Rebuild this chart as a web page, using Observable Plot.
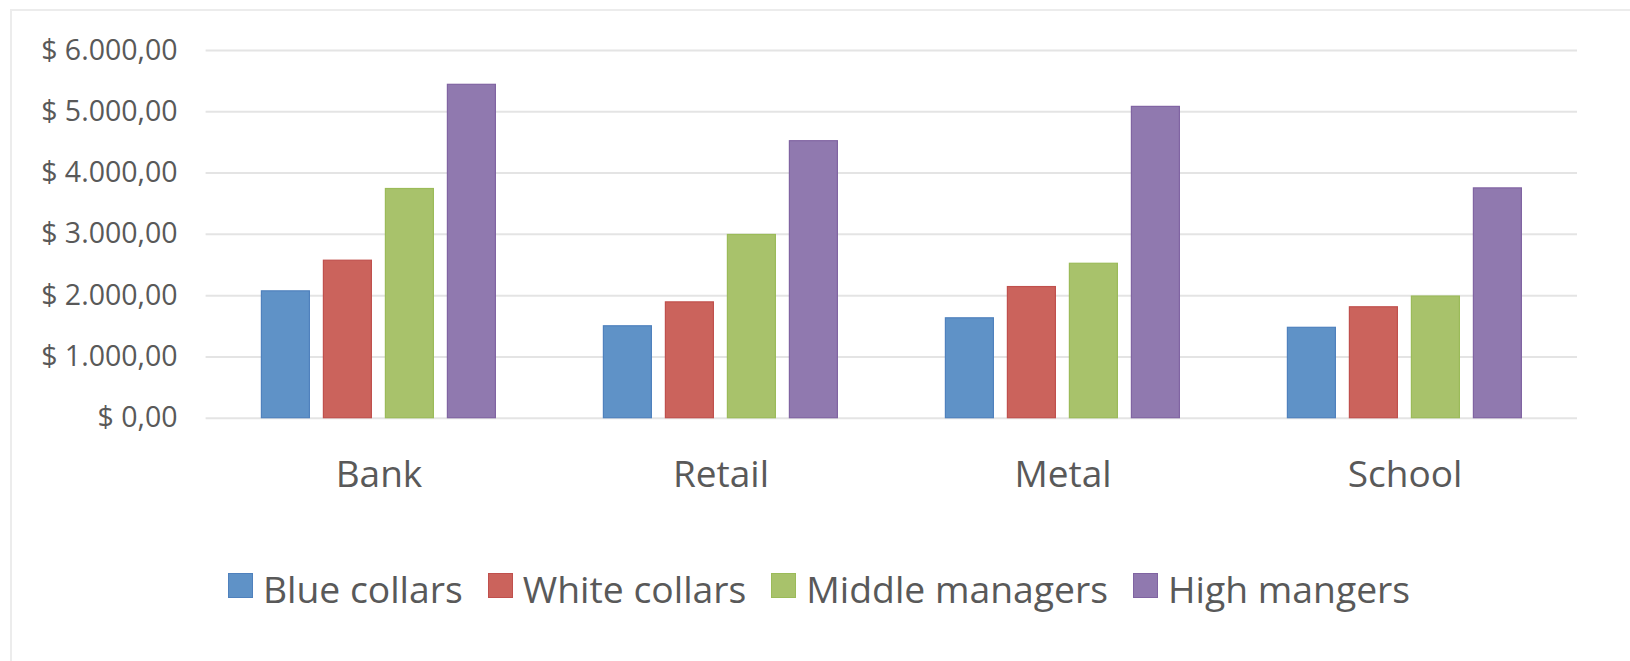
<!DOCTYPE html>
<html>
<head>
<meta charset="utf-8">
<script src="https://cdn.jsdelivr.net/npm/d3@7"></script>
<script src="https://cdn.jsdelivr.net/npm/@observablehq/plot@0.6"></script>
<style>
  html, body { margin: 0; padding: 0; background: #fff; }
  body { width: 1630px; height: 661px; position: relative; overflow: hidden; font-family: "Open Sans", sans-serif; }
  #frame { position: absolute; left: 10px; top: 9px; right: -10px; bottom: -10px; border-left: 2px solid #ececec; border-top: 2px solid #ececec; }
  #grid, #chart { position: absolute; left: 0; top: 0; }
  #legend { position: absolute; left: 0; top: 563px; width: 1630px; height: 50px; display: flex; justify-content: center; align-items: center; padding-left: 8px; box-sizing: border-box; }
  .item { display: flex; align-items: center; margin: 0 12.5px; color: #595959; font-size: 37.3px; }
  .sw { width: 23px; height: 23px; margin-right: 10px; border: 1px solid; position: relative; top: -3px; }
</style>
</head>
<body>
<div id="frame"></div>
<div id="grid"></div>
<div id="chart"></div>
<div id="legend"></div>
<script>
const categories = ["Bank", "Retail", "Metal", "School"];
const series = ["Blue collars", "White collars", "Middle managers", "High mangers"];
const blueCollars = [2070, 1500, 1630, 1475];
const whiteCollars = [2570, 1890, 2140, 1810];
const middleManagers = [3740, 2990, 2520, 1985];
const highManagers = [5440, 4520, 5080, 3750];
const yTicks = [0, 1000, 2000, 3000, 4000, 5000, 6000];

const fills = ["#5F92C7", "#CB635C", "#A8C26B", "#9079AF"];
const strokes = ["#4F81BD", "#C0504D", "#9BBB59", "#8064A2"];

const values = [blueCollars, whiteCollars, middleManagers, highManagers];
const data = [];
series.forEach((s, i) => categories.forEach((c, j) => data.push({category: c, series: s, value: values[i][j]})));

const locale = d3.formatLocale({decimal: ",", thousands: ".", grouping: [3], currency: ["$ ", ""]});
const fmt = locale.format("$,.2f");

const dims = {width: 1630, height: 500, marginLeft: 205.6, marginRight: 53, marginTop: 50, marginBottom: 82.3};

const grid = Plot.plot({
  ...dims,
  style: {background: "transparent"},
  y: {domain: [0, 6000], axis: null},
  marks: [Plot.ruleY(yTicks, {stroke: "#e4e4e4", strokeWidth: 2})]
});
document.getElementById("grid").appendChild(grid);

const chart = Plot.plot({
  ...dims,
  style: {fontFamily: "Open Sans", color: "#595959", background: "transparent"},
  fx: {domain: categories, paddingInner: 0.312, paddingOuter: 0.156, label: null},
  x: {domain: series, paddingInner: 0.223, paddingOuter: 0, axis: null},
  y: {domain: [0, 6000], label: null},
  marks: [
    ...series.map((s, i) => Plot.barY(data.filter(d => d.series === s), {
      fx: "category", x: "series", y: "value",
      fill: fills[i], stroke: strokes[i], strokeWidth: 1.2
    })),
    Plot.axisY(yTicks, {tickFormat: fmt, tickSize: 0, tickPadding: 84, fontSize: 28.5, label: null}),
    Plot.axisFx({anchor: "bottom", tickSize: 0, tickPadding: 43, fontSize: 37, label: null})
  ]
});
document.getElementById("chart").appendChild(chart);

const legend = document.getElementById("legend");
series.forEach((s, i) => {
  const item = document.createElement("div");
  item.className = "item";
  const sw = document.createElement("span");
  sw.className = "sw";
  sw.style.background = fills[i];
  sw.style.borderColor = strokes[i];
  const t = document.createElement("span");
  t.textContent = s;
  item.appendChild(sw);
  item.appendChild(t);
  legend.appendChild(item);
});
</script>
</body>
</html>
